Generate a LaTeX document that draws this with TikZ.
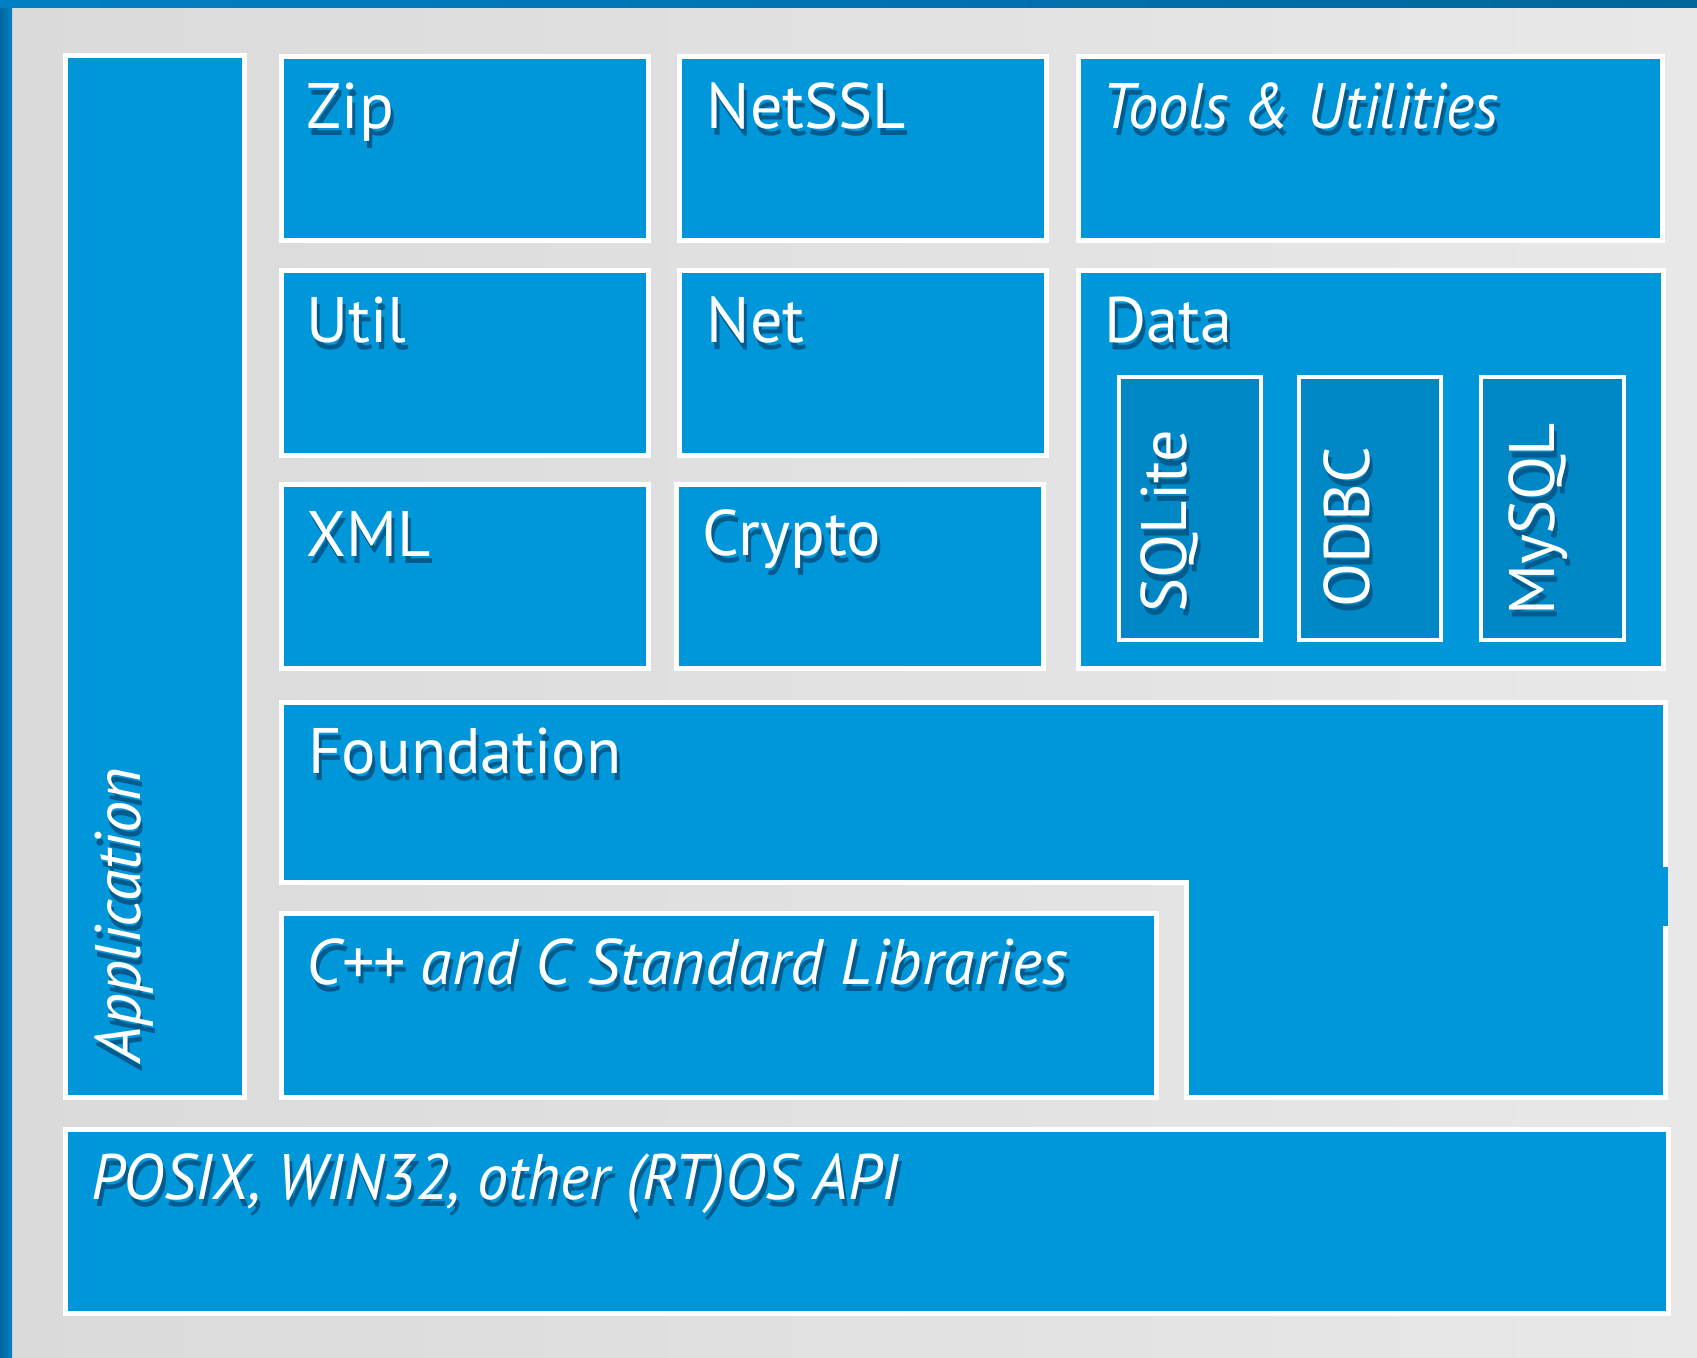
\documentclass[tikz,border=0pt]{standalone}
\usepackage{fontspec}
\setmainfont{PT Sans}
\definecolor{pocoblue}{RGB}{0,150,218}
\definecolor{pocodark}{RGB}{0,136,198}
\definecolor{pocoshadow}{RGB}{0,92,142}
\definecolor{panelgray}{RGB}{218,218,218}
\definecolor{panelgraylt}{RGB}{232,232,232}
\definecolor{frameblue}{RGB}{0,128,196}

% white text with a drop shadow (flat and turned by 90 degrees)
\newcommand{\shtext}[1]{\rlap{\kern0.85pt\raisebox{-2pt}{\color{pocoshadow}#1}}#1}
\newcommand{\shtextr}[1]{\rlap{\kern-2pt\raisebox{-0.85pt}{\color{pocoshadow}#1}}#1}

\begin{document}
\begin{tikzpicture}[x=0.01cm,y=-0.01cm,
    block/.style={fill=pocoblue,draw=white,line width=0.05cm},
    subblock/.style={fill=pocodark,draw=white,line width=0.04cm},
    lbl/.style={text=white,inner sep=0pt,anchor=base west,font=\fontsize{18.3}{22}\selectfont},
    lblup/.style={lbl,rotate=90}]
    \useasboundingbox (0,0) rectangle (1697,1357);

    % panel and frame
    \shade[left color=panelgray,right color=panelgraylt] (0,0) rectangle (1697,1357);
    \shade[left color=frameblue!80!black,right color=frameblue] (0,0) rectangle (12,1357);
    \shade[left color=frameblue,right color=frameblue!80!black] (0,0) rectangle (1697,7);

    % top rows
    \filldraw[block] (65.5,55.5) rectangle (244.5,1097.5); % application
    \filldraw[block] (281.5,56.5) rectangle (648.5,240.5); % zip
    \filldraw[block] (679.5,56.5) rectangle (1046.5,240.5); % netssl
    \filldraw[block] (1078.5,56.5) rectangle (1662.5,240.5); % tools
    \filldraw[block] (281.5,270.5) rectangle (648.5,455.5); % util
    \filldraw[block] (679.5,270.5) rectangle (1046.5,455.5); % net
    \filldraw[block] (281.5,484.5) rectangle (648.5,668.5); % xml
    \filldraw[block] (676.5,484.5) rectangle (1043.5,668.5); % crypto

    % data with connectors
    \filldraw[block] (1078.5,270.5) rectangle (1663.5,668.5);
    \filldraw[subblock] (1119,377) rectangle (1261,640); % sqlite
    \filldraw[subblock] (1299,377) rectangle (1441,640); % odbc
    \filldraw[subblock] (1481,377) rectangle (1624,640); % mysql

    % foundation, L shaped
    \filldraw[block] (281.5,702.5) -- (1665.5,702.5) -- (1665.5,1097.5) -- (1186.5,1097.5)
        -- (1186.5,882.5) -- (281.5,882.5) -- cycle;
    \fill[pocoblue] (1662,867) rectangle (1668,926);

    % bottom
    \filldraw[block] (281.5,913.5) rectangle (1156.5,1097.5); % c++ libs
    \filldraw[block] (65.5,1129.5) rectangle (1668.5,1313.5); % os api

    % labels
    \node[lbl] (zipt) at (306,128) {\shtext{Zip}};
    \node[lbl] (netsslt) at (706,128) {\shtext{NetSSL}};
    \node[lbl] (toolst) at (1102,128) {\scalebox{0.94}[1]{\shtext{\itshape Tools \& Utilities}}};
    \node[lbl] (utilt) at (306,342) {\shtext{Util}};
    \node[lbl] (nett) at (706,342) {\shtext{Net}};
    \node[lbl] (datat) at (1104,342) {\shtext{Data}};
    \node[lbl] (xmlt) at (306,556) {\shtext{XML}};
    \node[lbl] (cryptot) at (702,555) {\shtext{Crypto}};
    \node[lbl] (foundationt) at (308,773) {\shtext{Foundation}};
    \node[lbl] (cppt) at (306,984) {\shtext{\itshape C++ and C Standard Libraries}};
    \node[lbl] (posixt) at (91,1199) {\scalebox{0.965}[1]{\shtext{\itshape POSIX, WIN32, other (RT)OS API}}};
    \node[lblup] (appt) at (140,1063) {\shtextr{\itshape Application}};
    \node[lblup] (sqlitet) at (1186,613) {\shtextr{SQLite}};
    \node[lblup] (odbct) at (1369,608) {\shtextr{ODBC}};
    \node[lblup] (mysqlt) at (1554,616) {\shtextr{MySQL}};
\end{tikzpicture}
\end{document}
